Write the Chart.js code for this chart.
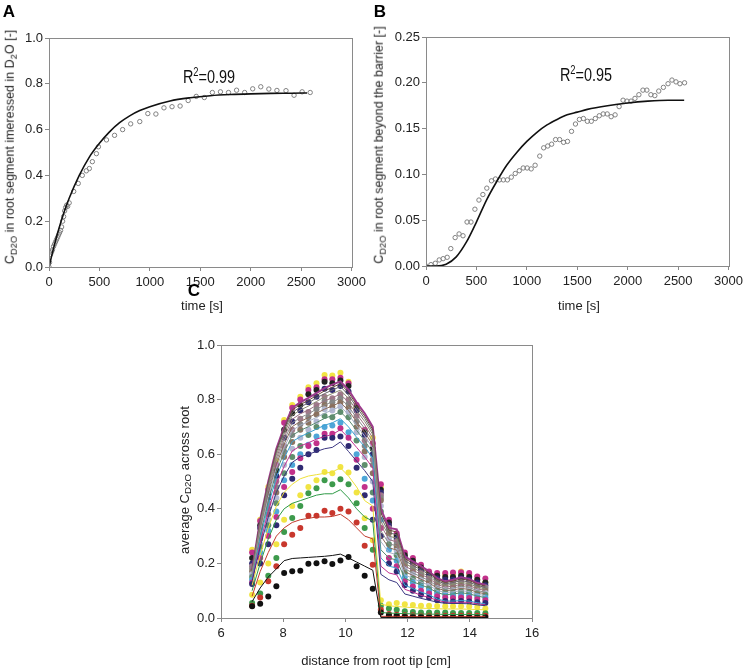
<!DOCTYPE html>
<html><head><meta charset="utf-8">
<script src="https://cdn.jsdelivr.net/npm/chart.js@4/dist/chart.umd.min.js"></script>
<style>
body{margin:0;background:#fff;width:747px;height:669px;position:relative;overflow:hidden;font-family:"Liberation Sans",Arial,sans-serif;color:#222}
.box{position:absolute}
.t{position:absolute;white-space:nowrap;font-size:13px;line-height:1;transform:translate(-50%,-50%)}
.v{transform:translate(-50%,-50%) rotate(-90deg)}
.ys{font-size:12.5px}
.lab{font-weight:bold;font-size:17px;color:#000}
.r2{font-size:19px;transform:translate(-50%,-50%) scaleX(0.76);color:#111}
sub{font-size:75%;vertical-align:-0.3em;line-height:0}
sup{font-size:65%;vertical-align:0.5em;line-height:0}
</style></head><body>
<div class="box" style="left:0;top:0;width:370px;height:300px"><canvas id="cA" width="370" height="300"></canvas></div>
<div class="box" style="left:375px;top:0;width:372px;height:300px"><canvas id="cB" width="372" height="300"></canvas></div>
<div class="box" style="left:150px;top:330px;width:410px;height:335px"><canvas id="cC" width="410" height="335"></canvas></div>

<div class="t lab" style="left:9px;top:11px">A</div>
<div class="t lab" style="left:380px;top:11px">B</div>
<div class="t lab" style="left:194px;top:290px">C</div>
<div class="t r2" style="left:209px;top:76px">R<sup>2</sup>=0.99</div>
<div class="t r2" style="left:586px;top:74px">R<sup>2</sup>=0.95</div>
<div class="t v ys" style="left:10px;top:147px">C<sub>D2O</sub> in root segment imeressed in D<sub>2</sub>O [-]</div>
<div class="t v ys" style="left:379px;top:145px">C<sub>D2O</sub> in root segment beyond the barrier [-]</div>
<div class="t v" style="left:184px;top:480px">average C<sub>D2O</sub> across root</div>
<div class="t" style="left:202px;top:305px">time [s]</div>
<div class="t" style="left:579px;top:305px">time [s]</div>
<div class="t" style="left:376px;top:660px">distance from root tip [cm]</div>

<script>
// ---------- Panel A ----------
const aObsT=[0,5,15,25,35,45,55,65,75,85,95,105,115,125,135,145,155,165,175,185,200,245,290,330,370,400,430,470,490,570,650,730,810,900,980,1060,1140,1220,1300,1380,1460,1540,1620,1700,1780,1860,1940,2020,2100,2180,2260,2350,2430,2510,2590];
const aObsV=[0,0.02,0.055,0.065,0.075,0.09,0.1,0.11,0.12,0.13,0.14,0.15,0.16,0.175,0.2,0.22,0.245,0.26,0.27,0.265,0.28,0.33,0.365,0.40,0.42,0.43,0.46,0.495,0.525,0.555,0.575,0.60,0.625,0.635,0.67,0.668,0.695,0.70,0.703,0.727,0.745,0.74,0.762,0.765,0.762,0.772,0.762,0.778,0.787,0.777,0.771,0.77,0.75,0.765,0.762];
const aFitT=[0,50,100,150,200,300,400,500,600,700,800,900,1000,1200,1400,1600,1800,2000,2200,2400,2560];
const aFitV=[0,0.09,0.17,0.24,0.30,0.40,0.48,0.54,0.59,0.63,0.66,0.683,0.70,0.725,0.739,0.748,0.753,0.756,0.758,0.759,0.76];

// ---------- Panel B ----------
const bObsT=[0,49,92,131,170,210,246,289,328,367,407,446,485,525,564,603,649,689,728,767,807,846,885,925,964,1003,1043,1082,1128,1167,1207,1246,1285,1325,1364,1403,1443,1482,1521,1561,1600,1639,1679,1718,1757,1797,1836,1875,1915,1954,1993,2033,2072,2111,2151,2190,2230,2269,2308,2354,2400,2439,2479,2518,2564];
const bObsV=[0,0.0015,0.003,0.0066,0.008,0.0095,0.019,0.031,0.035,0.033,0.048,0.048,0.062,0.072,0.078,0.085,0.093,0.095,0.094,0.094,0.094,0.097,0.101,0.104,0.107,0.107,0.106,0.11,0.12,0.129,0.131,0.133,0.138,0.138,0.135,0.136,0.147,0.155,0.16,0.161,0.158,0.158,0.161,0.164,0.166,0.166,0.163,0.165,0.174,0.181,0.18,0.18,0.183,0.187,0.192,0.192,0.187,0.186,0.191,0.195,0.199,0.203,0.201,0.199,0.2];
const bFitT=[0,100,200,300,400,500,600,700,800,900,1000,1100,1200,1300,1400,1500,1600,1800,2000,2200,2400,2560];
const bFitV=[0,0,0.002,0.01,0.026,0.048,0.072,0.092,0.11,0.124,0.136,0.146,0.154,0.16,0.165,0.168,0.171,0.175,0.178,0.18,0.181,0.181];

// ---------- Panel C ----------
const cX=[7.0,7.26,7.52,7.78,8.03,8.29,8.55,8.81,9.07,9.33,9.58,9.84,10.1,10.36,10.62,10.88,11.14,11.4,11.65,11.91,12.17,12.43,12.69,12.95,13.21,13.46,13.72,13.98,14.24,14.5];
const obs01=[0.043,0.052,0.079,0.116,0.165,0.171,0.173,0.199,0.201,0.208,0.198,0.211,0.223,0.19,0.155,0.107,0.02,0.01,0.008,0.005,0.004,0.004,0.003,0.003,0.003,0.003,0.003,0.003,0.003,0.003];
const mod01=[0.06,0.11,0.15,0.18,0.21,0.218,0.22,0.222,0.224,0.226,0.229,0.234,0.22,0.205,0.19,0.175,0.002,0.002,0.002,0.002,0.002,0.002,0.002,0.002,0.002,0.002,0.002,0.002,0.002,0.002];
const obs02=[0.045,0.075,0.135,0.19,0.27,0.305,0.33,0.375,0.375,0.393,0.385,0.40,0.39,0.35,0.265,0.195,0.03,0.015,0.012,0.01,0.01,0.008,0.008,0.008,0.008,0.008,0.008,0.008,0.008,0.008];
const mod02=[0.08,0.17,0.24,0.30,0.33,0.35,0.36,0.365,0.37,0.37,0.372,0.38,0.36,0.33,0.30,0.29,0.006,0.006,0.006,0.005,0.005,0.005,0.005,0.005,0.005,0.005,0.005,0.005,0.005,0.005];
const obs03=[0.055,0.09,0.155,0.22,0.315,0.366,0.41,0.457,0.475,0.505,0.49,0.508,0.49,0.42,0.33,0.25,0.045,0.035,0.03,0.025,0.022,0.02,0.02,0.02,0.02,0.018,0.018,0.018,0.018,0.017];
const mod03=[0.10,0.20,0.29,0.36,0.40,0.42,0.43,0.44,0.45,0.455,0.455,0.47,0.44,0.40,0.37,0.355,0.02,0.018,0.017,0.016,0.015,0.015,0.014,0.014,0.013,0.013,0.013,0.013,0.012,0.012];
const obs04=[0.085,0.13,0.20,0.27,0.36,0.41,0.45,0.48,0.505,0.535,0.53,0.553,0.533,0.46,0.365,0.285,0.065,0.05,0.055,0.05,0.048,0.045,0.045,0.044,0.043,0.043,0.043,0.042,0.04,0.035];
const mod04=[0.12,0.23,0.33,0.41,0.46,0.49,0.51,0.52,0.525,0.53,0.535,0.55,0.52,0.48,0.43,0.41,0.05,0.045,0.042,0.04,0.038,0.036,0.035,0.034,0.033,0.033,0.033,0.032,0.031,0.03];
const obs05=[0.125,0.2,0.27,0.34,0.45,0.51,0.55,0.6,0.615,0.66,0.66,0.665,0.63,0.55,0.45,0.36,0.30,0.2,0.17,0.12,0.1,0.085,0.075,0.065,0.062,0.06,0.062,0.06,0.058,0.055];
const mod05=[0.135,0.26,0.37,0.46,0.52,0.57,0.59,0.6,0.61,0.62,0.625,0.645,0.61,0.575,0.54,0.5,0.16,0.14,0.13,0.088,0.08,0.072,0.065,0.058,0.054,0.053,0.053,0.052,0.048,0.045];
const obs06=[0.13,0.22,0.3,0.37,0.48,0.535,0.585,0.63,0.64,0.675,0.675,0.695,0.66,0.58,0.48,0.40,0.33,0.22,0.19,0.135,0.115,0.1,0.09,0.08,0.075,0.073,0.075,0.073,0.07,0.066];
const mod06=[0.138,0.275,0.39,0.49,0.555,0.612,0.63,0.642,0.655,0.665,0.672,0.69,0.66,0.625,0.59,0.55,0.19,0.165,0.158,0.105,0.095,0.083,0.075,0.065,0.058,0.057,0.058,0.057,0.052,0.048];
const obs07=[0.14,0.24,0.32,0.39,0.505,0.56,0.6,0.635,0.665,0.70,0.705,0.715,0.68,0.6,0.51,0.43,0.36,0.25,0.21,0.15,0.13,0.115,0.1,0.09,0.085,0.083,0.085,0.083,0.08,0.075];
const mod07=[0.143,0.29,0.412,0.515,0.585,0.646,0.664,0.678,0.692,0.706,0.715,0.73,0.70,0.662,0.627,0.585,0.22,0.19,0.183,0.12,0.108,0.095,0.085,0.07,0.062,0.062,0.064,0.062,0.056,0.052];
const obs08=[0.15,0.26,0.34,0.42,0.53,0.59,0.63,0.67,0.7,0.74,0.735,0.755,0.735,0.65,0.56,0.46,0.39,0.27,0.23,0.165,0.145,0.128,0.11,0.1,0.095,0.093,0.097,0.095,0.09,0.085];
const mod08=[0.148,0.302,0.428,0.535,0.607,0.669,0.687,0.701,0.716,0.731,0.742,0.755,0.726,0.687,0.65,0.606,0.25,0.22,0.212,0.145,0.133,0.121,0.11,0.093,0.085,0.088,0.092,0.089,0.08,0.075];
const obs09=[0.16,0.27,0.36,0.44,0.56,0.62,0.66,0.69,0.72,0.765,0.76,0.775,0.755,0.68,0.59,0.5,0.41,0.29,0.245,0.18,0.16,0.14,0.12,0.11,0.105,0.103,0.107,0.105,0.1,0.092];
const mod09=[0.152,0.312,0.442,0.55,0.624,0.687,0.706,0.72,0.735,0.75,0.762,0.775,0.745,0.705,0.667,0.622,0.28,0.24,0.232,0.158,0.145,0.132,0.12,0.101,0.093,0.096,0.1,0.097,0.087,0.082];
const obs10=[0.17,0.29,0.38,0.46,0.59,0.645,0.69,0.715,0.745,0.78,0.775,0.79,0.77,0.7,0.61,0.53,0.43,0.31,0.26,0.19,0.17,0.15,0.13,0.12,0.113,0.112,0.117,0.113,0.107,0.1];
const mod10=[0.156,0.32,0.452,0.562,0.637,0.701,0.72,0.734,0.75,0.765,0.777,0.79,0.76,0.719,0.68,0.634,0.30,0.257,0.249,0.17,0.156,0.142,0.129,0.109,0.1,0.103,0.108,0.105,0.094,0.089];
const obs11=[0.18,0.3,0.4,0.48,0.61,0.67,0.71,0.735,0.765,0.795,0.79,0.805,0.785,0.72,0.63,0.56,0.44,0.32,0.27,0.2,0.18,0.158,0.138,0.127,0.12,0.12,0.124,0.12,0.113,0.107];
const mod11=[0.16,0.327,0.462,0.574,0.65,0.715,0.734,0.748,0.765,0.78,0.792,0.805,0.775,0.733,0.694,0.647,0.32,0.272,0.264,0.18,0.165,0.151,0.137,0.116,0.106,0.11,0.116,0.112,0.1,0.095];
const obs12=[0.19,0.31,0.42,0.5,0.63,0.69,0.73,0.755,0.78,0.81,0.805,0.82,0.8,0.74,0.65,0.58,0.45,0.33,0.28,0.21,0.19,0.165,0.145,0.135,0.128,0.128,0.132,0.128,0.12,0.113];
const mod12=[0.164,0.335,0.472,0.585,0.662,0.728,0.748,0.762,0.779,0.795,0.807,0.82,0.79,0.747,0.707,0.66,0.34,0.287,0.279,0.19,0.175,0.16,0.145,0.123,0.113,0.117,0.123,0.119,0.107,0.101];
const obs13=[0.2,0.33,0.44,0.52,0.66,0.72,0.76,0.79,0.81,0.84,0.835,0.85,0.83,0.76,0.67,0.6,0.46,0.34,0.29,0.22,0.2,0.175,0.155,0.145,0.14,0.14,0.145,0.14,0.13,0.12];
const mod13=[0.168,0.343,0.482,0.596,0.674,0.742,0.762,0.776,0.793,0.81,0.822,0.835,0.804,0.76,0.72,0.672,0.355,0.30,0.292,0.2,0.184,0.168,0.152,0.13,0.119,0.124,0.13,0.126,0.113,0.107];
const obs14=[0.22,0.34,0.455,0.54,0.69,0.75,0.78,0.82,0.835,0.865,0.86,0.87,0.85,0.77,0.68,0.62,0.47,0.35,0.3,0.23,0.21,0.185,0.16,0.155,0.15,0.15,0.155,0.15,0.14,0.13];
const mod14=[0.172,0.35,0.49,0.606,0.685,0.753,0.773,0.788,0.806,0.822,0.835,0.848,0.816,0.772,0.731,0.682,0.37,0.312,0.305,0.21,0.193,0.176,0.16,0.136,0.125,0.13,0.137,0.132,0.119,0.112];
const obs15=[0.24,0.355,0.47,0.56,0.715,0.77,0.8,0.835,0.845,0.875,0.875,0.88,0.86,0.78,0.69,0.64,0.49,0.36,0.31,0.24,0.22,0.195,0.17,0.165,0.165,0.167,0.168,0.165,0.152,0.145];
const mod15=[0.175,0.355,0.495,0.613,0.693,0.762,0.782,0.797,0.815,0.832,0.845,0.858,0.826,0.781,0.74,0.69,0.385,0.322,0.315,0.218,0.2,0.183,0.165,0.141,0.13,0.135,0.143,0.138,0.124,0.117];
const obs16=[0.25,0.36,0.48,0.575,0.725,0.78,0.81,0.845,0.86,0.89,0.888,0.898,0.865,0.77,0.68,0.66,0.48,0.345,0.3,0.225,0.205,0.18,0.16,0.155,0.16,0.16,0.17,0.16,0.14,0.13];
const mod16=[0.177,0.36,0.50,0.62,0.70,0.77,0.79,0.806,0.824,0.842,0.855,0.867,0.836,0.79,0.75,0.70,0.40,0.33,0.325,0.226,0.207,0.19,0.171,0.146,0.134,0.14,0.149,0.143,0.128,0.122];

const obsList=[obs01,obs02,obs03,obs04,obs05,obs06,obs07,obs08,obs09,obs10,obs11,obs12,obs13,obs14,obs15,obs16];
const modList=[mod01,mod02,mod03,mod04,mod05,mod06,mod07,mod08,mod09,mod10,mod11,mod12,mod13,mod14,mod15,mod16];
const dotColors=['#111111','#c8372d','#3d9a4c','#f1e443','#2f2a72','#c2318a','#4ea6d8','#5f8e6e','#b2b8d2','#8b7462','#858585','#a07a8c','#2f2a72','#222222','#c2318a','#f1e443'];
const lineColors=['#111111','#c0392b','#2e9a46','#eee03a','#3a3580','#c03090','#3aa0d0','#5a8a70','#a8b0c8','#8a6a5a','#8a8a8a','#9a7080','#8a8a70','#666666','#6a4a3a','#9c3a8c'];

const pts=(xs,ys)=>xs.map((x,i)=>({x:x,y:ys[i]}));
const TXT='#222';
const FONT={family:'"Liberation Sans", Arial, sans-serif',size:13};

const frame={id:'frame',afterDraw(chart){
  const a=chart.chartArea,ctx=chart.ctx;
  ctx.save();ctx.strokeStyle='#8a8a8a';ctx.lineWidth=1;
  ctx.strokeRect(Math.round(a.left)+0.5,Math.round(a.top)+0.5,Math.round(a.right-a.left),Math.round(a.bottom-a.top));
  ctx.restore();
}};

function makeChart(id,c){
  return new Chart(document.getElementById(id),{
    type:'scatter',
    data:{datasets:c.datasets},
    options:{
      responsive:false,animation:false,events:[],
      layout:{padding:c.pad},
      plugins:{legend:{display:false},tooltip:{enabled:false}},
      scales:{
        x:{type:'linear',min:c.xmin,max:c.xmax,
           ticks:{stepSize:c.xstep,font:FONT,color:TXT,padding:4,maxRotation:0,autoSkip:false,callback:v=>String(v)},
           grid:{drawOnChartArea:false,tickLength:4,color:'#888'},border:{display:false},
           afterFit(s){s.height=c.xh;}},
        y:{type:'linear',min:c.ymin,max:c.ymax,
           ticks:{stepSize:c.ystep,font:FONT,color:TXT,padding:2,autoSkip:false,callback:v=>Number(v).toFixed(c.ydec)},
           grid:{drawOnChartArea:false,tickLength:4,color:'#888'},border:{display:false},
           afterFit(s){s.width=c.yw;}}
      }
    },
    plugins:[frame]
  });
}

const openPts=(t,v)=>({data:pts(t,v),showLine:false,pointRadius:2.2,pointBorderWidth:1,pointBorderColor:'#808080',pointBackgroundColor:'rgba(255,255,255,0)',order:1});
const fitLine=(t,v)=>({data:pts(t,v),showLine:true,pointRadius:0,borderColor:'#111',borderWidth:1.6,cubicInterpolationMode:'monotone',order:0});

makeChart('cA',{xmin:0,xmax:3000,xstep:500,ymin:0,ymax:1,ystep:0.2,ydec:1,yw:49,xh:33,pad:{left:0,top:38,right:16,bottom:0},
  datasets:[fitLine(aFitT,aFitV),openPts(aObsT,aObsV)]});
makeChart('cB',{xmin:0,xmax:3000,xstep:500,ymin:0,ymax:0.25,ystep:0.05,ydec:2,yw:51,xh:34,pad:{left:0,top:37,right:16,bottom:0},
  datasets:[fitLine(bFitT,bFitV),openPts(bObsT,bObsV)]});

const cSets=[];
obsList.forEach((o,i)=>cSets.push({data:pts(cX,o),showLine:false,pointRadius:3,pointBorderWidth:0,pointBackgroundColor:dotColors[i],order:2}));
modList.forEach((m,i)=>cSets.push({data:pts(cX,m),showLine:true,pointRadius:0,borderColor:lineColors[i],borderWidth:(i===modList.length-1)?2:1,tension:0,order:1}));
makeChart('cC',{xmin:6,xmax:16,xstep:2,ymin:0,ymax:1,ystep:0.2,ydec:1,yw:71,xh:47,pad:{left:0,top:15,right:28,bottom:0},datasets:cSets});
</script>
</body></html>
